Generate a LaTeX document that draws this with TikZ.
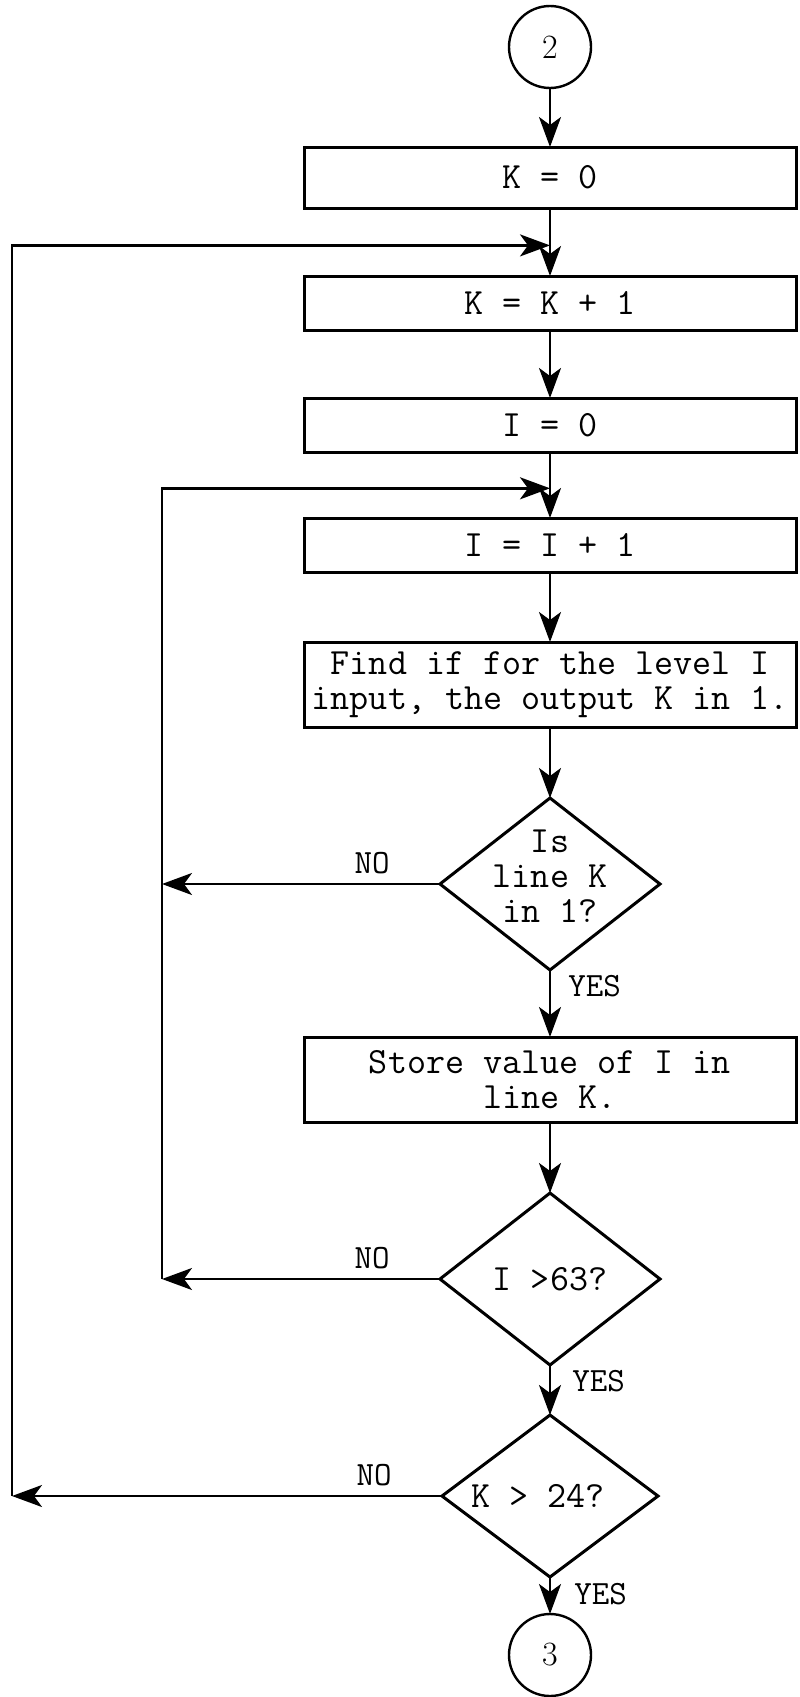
\documentclass[tikz,border=0pt]{standalone}
\usepackage{fontspec}
\usetikzlibrary{arrows.meta,positioning,shapes.geometric,calc}
\tikzset{
  procbox/.style={draw=black,line width=1.5pt,outer sep=0pt,inner sep=2pt,minimum width=246pt,minimum height=27pt,align=center,font=\ttfamily\fontsize{18.5}{17.5}\selectfont},
  decision/.style={draw=black,diamond,line width=1.5pt,outer sep=0pt,inner sep=0pt,minimum width=110pt,minimum height=86pt},
  dtext/.style={align=center,inner sep=0pt,font=\ttfamily\fontsize{18.5}{17.5}\selectfont},
  connector/.style={circle,draw=black,line width=1.2pt,outer sep=0pt,inner sep=0pt,minimum size=41pt,font=\fontsize{17}{17}\selectfont},
  flowline/.style={-{Stealth[length=15pt,width=11pt,inset=4pt]},line width=1.2pt,draw=black},
  answer/.style={inner sep=0pt,font=\ttfamily\fontsize{17}{17}\selectfont}
}
\begin{document}
\begin{tikzpicture}
\useasboundingbox (0,0) rectangle (399.5pt,-848.5pt);
\node[connector] (c2) at (275pt,-23.5pt) {2};
\node[procbox,below=29.5pt of c2,minimum height=30.5pt] (k0) {K = 0};
\node[procbox,below=34pt of k0] (kinc) {K = K + 1};
\node[procbox,below=34pt of kinc] (izero) {I = 0};
\node[procbox,below=33pt of izero] (iinc) {I = I + 1};
\node[procbox,below=35pt of iinc,minimum height=42.5pt] (find) {Find if for the level I\\input, the output K in 1.};
\node[decision,below=35.5pt of find] (d1) {};
\node[dtext] (d1txt) at ([yshift=4pt]d1.center) {Is\\line K\\in 1?};
\node[procbox,below=33.5pt of d1,minimum height=42.5pt] (store) {Store value of I in\\line K.};
\node[decision,below=35.5pt of store] (d2) {};
\node[dtext] (d2txt) at (d2.center) {I >63?};
\node[decision,below=25pt of d2,minimum width=108pt,minimum height=81pt] (d3) {};
\node[dtext] (d3txt) at ([xshift=-6pt]d3.center) {K > 24?};
\node[connector,below=18.5pt of d3] (c3) {3};
% answers
\node[answer,above left=5pt and 25pt of d1.west] (no1) {NO};
\node[answer,above left=5pt and 25pt of d2.west] (no2) {NO};
\node[answer,above left=5pt and 25pt of d3.west] (no3) {NO};
\node[answer,below right=2.5pt and 9pt of d1.south] (yes1) {YES};
\node[answer,below right=2.5pt and 11pt of d2.south] (yes2) {YES};
\node[answer,below right=3pt and 12pt of d3.south] (yes3) {YES};
% main flow
\draw[flowline] (c2.south) -- (k0.north);
\draw[flowline] (k0.south) -- (kinc.north);
\draw[flowline] (kinc.south) -- (izero.north);
\draw[flowline] (izero.south) -- (iinc.north);
\draw[flowline] (iinc.south) -- (find.north);
\draw[flowline] (find.south) -- (d1.north);
\draw[flowline] (d1.south) -- (store.north);
\draw[flowline] (store.south) -- (d2.north);
\draw[flowline] (d2.south) -- (d3.north);
\draw[flowline] (d3.south) -- (c3.north);
% loops
\coordinate (j1) at ($(k0.south)!0.55!(kinc.north)$);
\coordinate (j2) at ($(izero.south)!0.55!(iinc.north)$);
\coordinate (outerx) at (6pt,0);
\coordinate (innerx) at (81pt,0);
\coordinate (r1) at (d1.west -| innerx);
\coordinate (r2) at (d2.west -| innerx);
\coordinate (r3) at (d3.west -| outerx);
\draw[flowline] (d1.west) -- (r1);
\draw[flowline] (d2.west) -- (r2);
\draw[flowline] (d3.west) -- (r3);
\draw[flowline] (r2) |- (j2);
\draw[flowline] (r3) |- (j1);
\end{tikzpicture}
\end{document}
